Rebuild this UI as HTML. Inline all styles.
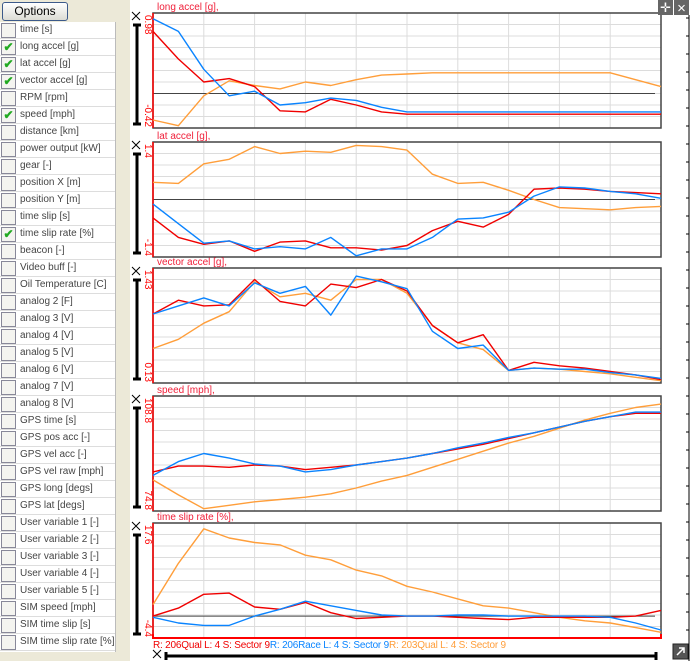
<!DOCTYPE html>
<html><head><meta charset="utf-8">
<style>
body{margin:0;width:690px;height:661px;overflow:hidden;background:#ece9d8;font-family:"Liberation Sans",sans-serif;position:relative}
#opt{position:absolute;left:2px;top:2px;width:64px;height:17px;border:1px solid #3c5a8a;border-radius:3px;background:linear-gradient(#fff,#dcdcd4);font-size:12px;text-align:center;line-height:17px}
#list{position:absolute;left:0;top:22px;width:115px;height:630px;background:#fff;border-right:1px solid #bbb}
.row{height:16px;border-bottom:1px solid #ddd;position:relative;font-size:10px;line-height:16px}
.cb{position:absolute;left:1px;top:1px;width:13px;height:13px;border:1px solid #889;background:#f4f4f0;color:#2a2;font-size:12px;line-height:13px;text-align:center;font-weight:bold}
.lb{position:absolute;left:20px;top:0;color:#444;white-space:nowrap}
svg{position:absolute;left:130px;top:0}
</style></head><body>
<div id="opt">Options</div>
<div id="list"></div>
<svg id="chart" width="560" height="661"></svg>
<script>
const channels=["time [s]","long accel [g]","lat accel [g]","vector accel [g]","RPM [rpm]","speed [mph]","distance [km]","power output [kW]","gear [-]","position X [m]","position Y [m]","time slip [s]","time slip rate [%]","beacon [-]","Video buff [-]","Oil Temperature [C]","analog 2 [F]","analog 3 [V]","analog 4 [V]","analog 5 [V]","analog 6 [V]","analog 7 [V]","analog 8 [V]","GPS time [s]","GPS pos acc [-]","GPS vel acc [-]","GPS vel raw [mph]","GPS long [degs]","GPS lat [degs]","User variable 1 [-]","User variable 2 [-]","User variable 3 [-]","User variable 4 [-]","User variable 5 [-]","SIM speed [mph]","SIM time slip [s]","SIM time slip rate [%]"];
const checked=[1,2,3,5,12];
// chart data: x positions (grid columns) and normalized series values (0=axis min,1=axis max)
const xs=[0,0.5,1,1.5,2,2.5,3,3.5,4,4.5,5,5.5,6,6.5,7,7.5,8,8.5,9,9.5,10];
const titles=["long accel [g],","lat accel [g],","vector accel [g],","speed [mph],","time slip rate [%],"];
const tickTop=["0.98","1.4","1.43","108.8","17.6"];
const tickBot=["-0.42","-1.4","0.13","74.8","-4.4"];
const zeroLevels=[0.30,0.50,null,null,0.19];
const longRed=[.84,.60,.40,.43,.36,.15,.14,.25,.20,.14,.12,.12,.12,.12,.12,.12,.12,.12,.12,.12,.12];
const longBlue=[.95,.84,.51,.28,.32,.20,.22,.26,.24,.18,.14,.14,.14,.14,.14,.14,.14,.14,.14,.14,.14];
const longOrange=[.07,.02,.28,.41,.37,.34,.40,.37,.42,.46,.47,.48,.48,.48,.48,.48,.48,.48,.48,.42,.36];
const latRed=[.34,.17,.11,.14,.05,.13,.14,.08,.08,.06,.10,.23,.31,.26,.37,.59,.60,.59,.57,.56,.55];
const latBlue=[.46,.29,.12,.14,.07,.09,.07,.17,.01,.07,.07,.17,.33,.34,.39,.53,.61,.60,.57,.55,.51];
const latOrange=[.65,.64,.81,.85,.96,.90,.92,.91,.97,.96,.93,.72,.64,.65,.58,.50,.43,.42,.41,.43,.44];
const vecRed=[.60,.72,.67,.68,.90,.71,.67,.86,.83,.90,.80,.50,.35,.42,.11,.18,.15,.13,.10,.07,.03];
const vecBlue=[.60,.67,.74,.67,.87,.78,.84,.59,.93,.88,.82,.45,.30,.33,.11,.13,.12,.12,.09,.07,.04];
const vecOrange=[.30,.38,.52,.62,.88,.75,.78,.72,.90,.90,.78,.50,.35,.29,.11,.13,.12,.10,.08,.05,.02];
const spdRed=[.34,.39,.39,.38,.40,.39,.36,.38,.40,.43,.46,.50,.54,.58,.63,.68,.73,.78,.82,.85,.85];
const spdBlue=[.31,.43,.50,.46,.41,.39,.34,.36,.40,.43,.46,.50,.55,.59,.64,.68,.73,.78,.82,.86,.86];
const spdOrange=[.27,.14,.02,.05,.08,.10,.12,.15,.20,.26,.31,.38,.45,.52,.59,.65,.72,.79,.85,.90,.93];
const tsRed=[.19,.26,.38,.39,.27,.25,.31,.22,.17,.18,.19,.19,.18,.17,.16,.18,.18,.18,.18,.19,.24];
const tsBlue=[.18,.13,.11,.11,.19,.25,.32,.28,.24,.20,.19,.19,.20,.20,.19,.19,.19,.19,.18,.13,.07];
const tsOrange=[.29,.65,.95,.87,.83,.81,.72,.68,.59,.54,.45,.40,.34,.28,.26,.22,.18,.15,.13,.09,.05];
const seriesSets=[[longOrange,longRed,longBlue],[latOrange,latRed,latBlue],[vecOrange,vecRed,vecBlue],[spdOrange,spdRed,spdBlue],[tsOrange,tsRed,tsBlue]];
const colors=["#ff9e3a","#f00000","#0a84ff"];

const list=document.getElementById('list');
channels.forEach((c,i)=>{
  const r=document.createElement('div');r.className='row';
  
  
  const cb=document.createElement('div');cb.className='cb';
  
  
  if(checked.includes(i))cb.textContent='✔';
  const lb=document.createElement('div');lb.className='lb';lb.textContent=c;
  
  
  r.appendChild(cb);r.appendChild(lb);list.appendChild(r);
});

const NS='http://www.w3.org/2000/svg';
const svg=document.getElementById('chart');
function mk(t,a,p){const e=document.createElementNS(NS,t);for(const k in a)e.setAttribute(k,a[k]);(p||svg).appendChild(e);return e;}
mk('rect',{x:0,y:0,width:560,height:661,fill:'#fff'});
const X0=23,X1=531,H=115;
const tops=[13,142,268,396,523];
const xScale=v=>X0+(X1-X0)*v/10;
titles.forEach((t,p)=>{
  const top=tops[p];const yS=v=>top+H-H*v;
  const g=mk('g',{});
  
  
  for(let i=1;i<10;i++){mk('line',{x1:X0,x2:X1,y1:top+H*i/10,y2:top+H*i/10,stroke:'#dcdcdc'},g);
    mk('line',{x1:xScale(i),x2:xScale(i),y1:top,y2:top+H,stroke:'#dcdcdc'},g);}
  if(zeroLevels[p]!==null){const zl=mk('line',{x1:X0,x2:X1-6,y1:yS(zeroLevels[p]),y2:yS(zeroLevels[p]),stroke:'#444'},g);
    }
  mk('rect',{x:X0,y:top,width:X1-X0,height:H,fill:'none',stroke:'#444','stroke-width':1.5},g);
  mk('line',{x1:X0,x2:X0,y1:top,y2:top+H,stroke:'#f00','stroke-width':1.5},g);
  const tt=mk('text',{x:27,y:top-3,'font-size':10,fill:'#f0203a'},g);tt.textContent=t;
  
  const a=mk('text',{x:0,y:0,'font-size':10,fill:'#f00',transform:`translate(15,${top+2}) rotate(90)`},g);a.textContent=tickTop[p];
  
  const b=mk('text',{x:0,y:0,'font-size':10,fill:'#f00','text-anchor':'end',transform:`translate(15,${top+H-1}) rotate(90)`},g);b.textContent=tickBot[p];
  
  const x=mk('path',{d:`M2 ${top-1}l8 8M10 ${top-1}l-8 8`,stroke:'#000','stroke-width':1,fill:'none'},g);
  
  
  const bar=mk('path',{d:`M3 ${top+12}h8M7 ${top+12}V${top+H-4}M3 ${top+H-4}h8`,stroke:'#000','stroke-width':3,fill:'none'},g);
  
  
  seriesSets[p].forEach((arr,s)=>{
    const pl=mk('polyline',{points:arr.map((v,i)=>xScale(xs[i]).toFixed(1)+','+yS(v).toFixed(1)).join(' '),fill:'none',stroke:colors[s],'stroke-width':1.4,'stroke-linejoin':'round'},g);
    
  });
});
// bottom red axis + legend
mk('path',{d:`M${X0} 634v5M${X0} 638H${X1}M${X1} 634v5`,stroke:'#f00','stroke-width':2,fill:'none'});
const leg=mk('text',{x:X0,y:648,'font-size':10,'letter-spacing':'-0.2'});

[["R: 206Qual  L: 4  S: Sector 9","#f00000"],["R: 206Race  L: 4  S: Sector 9","#0a84ff"],["R: 203Qual  L: 4  S: Sector 9","#ff9e3a"]].forEach(([t,c])=>{
  const ts=mk('tspan',{fill:c},leg);ts.textContent=t;
  
});
const sx=mk('path',{d:'M23 650l8 8M31 650l-8 8',stroke:'#000',fill:'none'});


const sb=mk('path',{d:`M36 652v8M36 656H526M526 652v8`,stroke:'#000','stroke-width':3,fill:'none'});


// right ruler
mk('line',{x1:559,x2:559,y1:15,y2:661,stroke:'#000'});
for(let y=18;y<661;y+=18)mk('line',{x1:556,x2:559,y1:y,y2:y,stroke:'#000'});
const mv=mk('rect',{x:528,y:0,width:15,height:15,fill:'#666'});


const mvt=mk('text',{x:535.5,y:12,'font-size':13,fill:'#fff','text-anchor':'middle'});mvt.textContent='✛';
const cl=mk('rect',{x:544,y:0,width:15,height:15,fill:'#666'});


const clt=mk('text',{x:551.5,y:13,'font-size':15,fill:'#fff','text-anchor':'middle'});clt.textContent='×';
const rs=mk('rect',{x:543,y:644,width:15,height:15,fill:'#555',stroke:'#222'});


mk('path',{d:'M547 655l7-7M549 648h5v5',stroke:'#fff','stroke-width':1.5,fill:'none'});
</script>
</body></html>
